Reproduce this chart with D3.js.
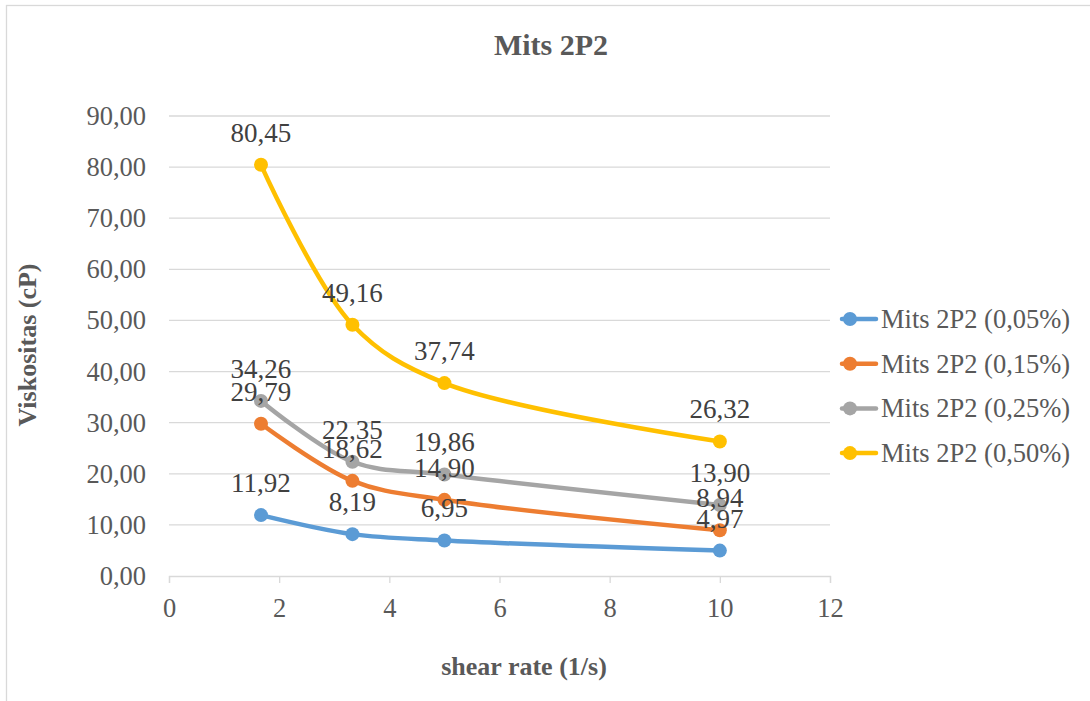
<!DOCTYPE html>
<html>
<head>
<meta charset="utf-8">
<script src="https://cdn.jsdelivr.net/npm/d3@7"></script>
<style>
  html, body { margin: 0; padding: 0; background: #fff; }
  svg { display: block; }
</style>
</head>
<body>
<svg id="chart" width="1090" height="701"></svg>
<script>
// Shear rate (1/s) at which viscosity was measured
const shearRates = [1.67, 3.33, 5, 10];

// Viscosity (cP) per concentration
const seriesNames = ["Mits 2P2 (0,05%)", "Mits 2P2 (0,15%)", "Mits 2P2 (0,25%)", "Mits 2P2 (0,50%)"];
const visc005 = [11.92, 8.19, 6.95, 4.97];
const visc015 = [29.79, 18.62, 14.90, 8.94];
const visc025 = [34.26, 22.35, 19.86, 13.90];
const visc050 = [80.45, 49.16, 37.74, 26.32];

const xTicks = [0, 2, 4, 6, 8, 10, 12];
const yTicks = [0, 10, 20, 30, 40, 50, 60, 70, 80, 90];

const colors = ["#5b9bd5", "#ed7d31", "#a5a5a5", "#ffc000"];
const seriesValues = [visc005, visc015, visc025, visc050];

const FONT = "'Liberation Serif', 'Times New Roman', serif";

const series = seriesNames.map((name, i) => ({
  name,
  color: colors[i],
  points: shearRates.map((x, j) => ({ x, y: seriesValues[i][j] }))
}));

const svg = d3.select("#chart");

// chart border
svg.append("rect")
  .attr("x", 6.5).attr("y", 5.5)
  .attr("width", 1200).attr("height", 800)
  .attr("fill", "#fff").attr("stroke", "#d9d9d9").attr("stroke-width", 1.3);

const plot = { left: 169, right: 830, top: 116, bottom: 576 };

const x = d3.scaleLinear().domain([0, 12]).range([plot.left, plot.right]);
const y = d3.scaleLinear().domain([0, 90]).range([plot.bottom, plot.top]);

const fmt = v => d3.format(".2f")(v).replace(".", ",");

// horizontal gridlines
svg.append("g")
  .selectAll("line")
  .data(yTicks.filter(t => t > 0))
  .join("line")
  .attr("x1", plot.left).attr("x2", plot.right)
  .attr("y1", d => y(d)).attr("y2", d => y(d))
  .attr("stroke", "#d9d9d9").attr("stroke-width", 1.3);

// y axis labels
const yAxis = svg.append("g")
  .attr("transform", `translate(${plot.left},0)`)
  .call(d3.axisLeft(y).tickValues(yTicks).tickFormat(fmt).tickSize(0).tickPadding(23));
yAxis.select(".domain").remove();
yAxis.selectAll("text")
  .attr("fill", "#595959")
  .style("font-size", "26.5px")
  .style("font-family", FONT);

// x axis
const xAxis = svg.append("g")
  .attr("transform", `translate(0,${plot.bottom})`)
  .call(d3.axisBottom(x).tickValues(xTicks).tickFormat(d3.format("d")).tickSize(7).tickPadding(15));
xAxis.select(".domain").attr("stroke", "#d9d9d9").attr("stroke-width", 1.3);
xAxis.selectAll(".tick line").attr("stroke", "#d9d9d9").attr("stroke-width", 1.3);
xAxis.selectAll("text")
  .attr("fill", "#595959")
  .style("font-size", "26.5px")
  .style("font-family", FONT);

// smoothed series lines
const line = d3.line()
  .x(d => x(d.x))
  .y(d => y(d.y))
  .curve(d3.curveCatmullRom.alpha(0.5));

const g = svg.append("g");
series.forEach(s => {
  g.append("path")
    .datum(s.points)
    .attr("fill", "none")
    .attr("stroke", s.color)
    .attr("stroke-width", 4.5)
    .attr("stroke-linejoin", "round")
    .attr("stroke-linecap", "round")
    .attr("d", line);
});
series.forEach(s => {
  g.selectAll(null)
    .data(s.points)
    .join("circle")
    .attr("cx", d => x(d.x))
    .attr("cy", d => y(d.y))
    .attr("r", 7)
    .attr("fill", s.color);
});

// value labels above each point
series.forEach(s => {
  g.selectAll(null)
    .data(s.points)
    .join("text")
    .attr("x", d => x(d.x))
    .attr("y", d => y(d.y) - 23)
    .attr("text-anchor", "middle")
    .attr("fill", "#404040")
    .style("font-family", FONT)
    .style("font-size", "27px")
    .text(d => fmt(d.y));
});

// title
svg.append("text")
  .attr("x", 551).attr("y", 55)
  .attr("text-anchor", "middle")
  .attr("fill", "#595959")
  .style("font-family", FONT)
  .style("font-size", "30px")
  .style("font-weight", "bold")
  .text("Mits 2P2");

// axis titles
svg.append("text")
  .attr("x", 524).attr("y", 675)
  .attr("text-anchor", "middle")
  .attr("fill", "#595959")
  .style("font-family", FONT)
  .style("font-size", "26px")
  .style("font-weight", "bold")
  .text("shear rate (1/s)");

svg.append("text")
  .attr("transform", "translate(36,345) rotate(-90)")
  .attr("text-anchor", "middle")
  .attr("fill", "#595959")
  .style("font-family", FONT)
  .style("font-size", "26px")
  .style("font-weight", "bold")
  .text("Viskositas (cP)");

// legend
const legend = svg.append("g");
series.forEach((s, i) => {
  const ly = 319 + i * 44.7;
  legend.append("line")
    .attr("x1", 842).attr("x2", 876)
    .attr("y1", ly).attr("y2", ly)
    .attr("stroke", s.color).attr("stroke-width", 4.5).attr("stroke-linecap", "round");
  legend.append("circle")
    .attr("cx", 850).attr("cy", ly).attr("r", 7).attr("fill", s.color);
  legend.append("text")
    .attr("x", 881).attr("y", ly + 9)
    .attr("fill", "#595959")
    .style("font-family", FONT)
    .style("font-size", "26.5px")
    .text(s.name);
});
</script>
</body>
</html>
